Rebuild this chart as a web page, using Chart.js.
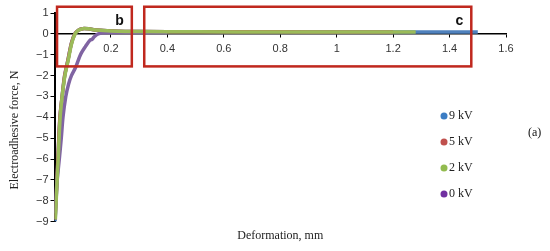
<!DOCTYPE html>
<html>
<head>
<meta charset="utf-8">
<script src="https://cdn.jsdelivr.net/npm/chart.js@4/dist/chart.umd.min.js"></script>
<style>
  html, body { margin: 0; padding: 0; background: #fff; }
  #wrap { width: 550px; height: 251px; }
</style>
</head>
<body>
<div id="wrap"><canvas id="chart"></canvas></div>
<script>
// series labels and colours
const seriesNames = ["9 kV", "5 kV", "2 kV", "0 kV"];
const lineColors = ["#4F81BD", "#C0504D", "#9BBB59", "#8064A2"];
const dotColors = ["#3C7DC4", "#C0504D", "#92BB4F", "#7030A0"];

// deformation (mm) and force (N)
const x9kV = [0.002, 0.007, 0.012, 0.019, 0.027, 0.036, 0.047, 0.06, 0.072, 0.085, 0.1, 0.12, 0.15, 0.2, 0.3, 0.5, 0.8, 1.0, 1.2, 1.5];
const y9kV = [-9.0, -7.6, -6.1, -4.1, -3.0, -2.0, -1.3, -0.45, 0.0, 0.18, 0.25, 0.24, 0.18, 0.14, 0.11, 0.1, 0.1, 0.09, 0.09, 0.09];
const x5kV = [0.002, 0.007, 0.012, 0.019, 0.027, 0.036, 0.047, 0.06, 0.072, 0.085, 0.1, 0.12, 0.15, 0.2, 0.3, 0.5, 0.8, 1.0, 1.2];
const y5kV = [-8.9, -7.5, -6.0, -4.0, -3.0, -2.0, -1.3, -0.45, 0.0, 0.18, 0.25, 0.24, 0.18, 0.14, 0.11, 0.1, 0.1, 0.09, 0.09];
const x2kV = [0.003, 0.008, 0.013, 0.02, 0.028, 0.037, 0.048, 0.061, 0.073, 0.085, 0.1, 0.12, 0.15, 0.2, 0.3, 0.5, 0.8, 1.0, 1.28];
const y2kV = [-8.9, -7.4, -6.0, -4.0, -2.9, -2.0, -1.3, -0.45, 0.0, 0.18, 0.25, 0.24, 0.18, 0.14, 0.11, 0.1, 0.09, 0.09, 0.09];
const x0kV = [0.002, 0.006, 0.011, 0.017, 0.024, 0.03, 0.04, 0.05, 0.06, 0.075, 0.092, 0.11, 0.126, 0.133, 0.14, 0.155, 0.18, 0.25, 0.4];
const y0kV = [-8.6, -7.6, -6.8, -6.0, -5.0, -4.0, -3.0, -2.4, -2.0, -1.6, -1.0, -0.6, -0.3, -0.27, -0.15, 0.0, 0.05, 0.06, 0.06];

// axis ticks
const xTicks = [0, 0.2, 0.4, 0.6, 0.8, 1, 1.2, 1.4, 1.6];
const yTicks = [1, 0, -1, -2, -3, -4, -5, -6, -7, -8, -9];

// zoom boxes b and c, in data units
const boxNames = ["b", "c"];
const boxX0 = [0.009, 0.318];
const boxX1 = [0.274, 1.477];
const boxYTop = [1.3, 1.3];
const boxYBottom = [-1.56, -1.56];

function toPoints(xs, ys) {
  return xs.map((x, i) => ({ x: x, y: ys[i] }));
}

const allX = [x9kV, x5kV, x2kV, x0kV];
const allY = [y9kV, y5kV, y2kV, y0kV];
const drawOrder = [3, 2, 0, 1]; // green on top, blue lowest

const datasets = seriesNames.map((name, i) => ({
  label: name,
  data: toPoints(allX[i], allY[i]),
  showLine: true,
  borderColor: lineColors[i],
  backgroundColor: lineColors[i],
  borderWidth: 3.5,
  pointRadius: 0,
  tension: 0.3,
  order: drawOrder[i],
}));

const serif = "'Liberation Serif', 'Times New Roman', serif";
const sans = "'Liberation Sans', Arial, sans-serif";

const extrasPlugin = {
  id: "extras",
  afterDatasetsDraw(chart) {
    const ctx = chart.ctx;
    const xs = chart.scales.x;
    const ys = chart.scales.y;
    ctx.save();
    // red zoom boxes
    ctx.strokeStyle = "#C0281E";
    ctx.lineWidth = 2.5;
    boxNames.forEach((name, i) => {
      const left = xs.getPixelForValue(boxX0[i]);
      const right = xs.getPixelForValue(boxX1[i]);
      const top = ys.getPixelForValue(boxYTop[i]);
      const bottom = ys.getPixelForValue(boxYBottom[i]);
      ctx.strokeRect(left, top, right - left, bottom - top);
      ctx.fillStyle = "#111";
      ctx.font = "bold 14px " + sans;
      ctx.textAlign = "right";
      ctx.textBaseline = "middle";
      ctx.fillText(name, right - 8, top + 14);
    });
    // legend
    const lx = 444;
    const ly = 116;
    ctx.font = "12px " + serif;
    ctx.textAlign = "left";
    ctx.textBaseline = "middle";
    seriesNames.forEach((name, i) => {
      const y = ly + i * 26;
      ctx.fillStyle = dotColors[i];
      ctx.beginPath();
      ctx.arc(lx, y, 3.5, 0, Math.PI * 2);
      ctx.fill();
      ctx.fillStyle = "#222";
      ctx.fillText(name, lx + 5, y);
    });
    // panel tag
    ctx.fillStyle = "#111";
    ctx.font = "12px " + serif;
    ctx.fillText("(a)", 528, 133);
    // y axis title
    ctx.translate(15, 130);
    ctx.rotate(-Math.PI / 2);
    ctx.textAlign = "center";
    ctx.fillStyle = "#222";
    ctx.font = "12px " + serif;
    ctx.fillText("Electroadhesive force, N", 0, 0);
    ctx.restore();
  },
};

new Chart(document.getElementById("chart"), {
  type: "scatter",
  data: { datasets: datasets },
  plugins: [extrasPlugin],
  options: {
    responsive: true,
    maintainAspectRatio: false,
    animation: false,
    layout: { padding: { top: 13, right: 44, left: 0, bottom: 0 } },
    plugins: {
      legend: { display: false },
      tooltip: { enabled: false },
      title: {
        display: true,
        position: "bottom",
        fullSize: false,
        text: "Deformation, mm",
        color: "#222",
        font: { family: serif, size: 12, weight: "normal" },
        padding: { top: 7, bottom: 8 },
      },
    },
    scales: {
      x: {
        type: "linear",
        position: { y: 0 },
        min: 0,
        max: 1.6,
        afterBuildTicks(scale) {
          scale.ticks = xTicks.map((v) => ({ value: v }));
        },
        ticks: {
          color: "#333",
          font: { family: sans, size: 11 },
          padding: 6,
          maxRotation: 0,
          callback: (v) => (v === 0 ? "" : String(Math.round(v * 10) / 10)),
        },
        grid: { drawOnChartArea: false, tickLength: 3, color: "#000" },
        border: { color: "#000", width: 1.5 },
      },
      y: {
        min: -9,
        max: 1,
        afterBuildTicks(scale) {
          scale.ticks = yTicks.map((v) => ({ value: v }));
        },
        afterFit(scale) {
          scale.width = 54.5;
        },
        ticks: {
          color: "#333",
          font: { family: sans, size: 11 },
          padding: 2,
          callback: (v) => (v < 0 ? "\u2212" + Math.abs(v) : String(v)),
        },
        grid: { drawOnChartArea: false, tickLength: 4, color: "#000" },
        border: { color: "#000", width: 2 },
      },
    },
  },
});
</script>
</body>
</html>
